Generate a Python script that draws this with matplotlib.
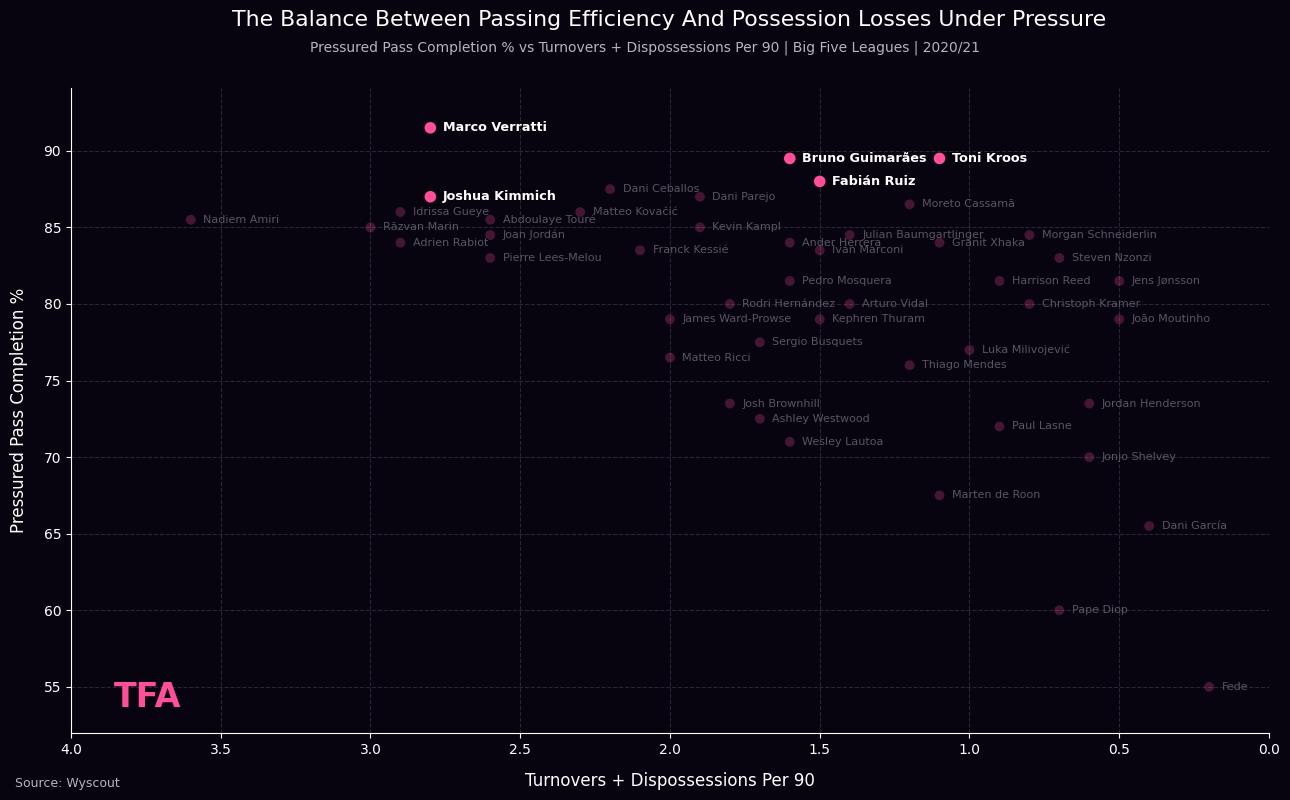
import matplotlib
matplotlib.use("Agg")
import matplotlib.pyplot as plt

###-----------Data--------------------------
highlight_names = ["Marco Verratti", "Bruno Guimarães", "Toni Kroos", "Fabián Ruiz", "Joshua Kimmich"]
highlight_x = [2.8, 1.6, 1.1, 1.5, 2.8]
highlight_y = [91.5, 89.5, 89.5, 88.0, 87.0]

other_names = ["Nadiem Amiri", "Idrissa Gueye", "Răzvan Marin", "Adrien Rabiot", "Abdoulaye Touré",
               "Joan Jordán", "Pierre Lees-Melou", "Matteo Kovačić", "Dani Ceballos", "Dani Parejo",
               "Kevin Kampl", "Franck Kessié", "Moreto Cassamã", "Julian Baumgartlinger", "Ander Herrera",
               "Iván Marconi", "Granit Xhaka", "Morgan Schneiderlin", "Steven Nzonzi", "Pedro Mosquera",
               "Harrison Reed", "Jens Jønsson", "Rodri Hernández", "Arturo Vidal", "Christoph Kramer",
               "James Ward-Prowse", "Kephren Thuram", "João Moutinho", "Sergio Busquets", "Matteo Ricci",
               "Luka Milivojević", "Thiago Mendes", "Josh Brownhill", "Ashley Westwood", "Jordan Henderson",
               "Paul Lasne", "Wesley Lautoa", "Jonjo Shelvey", "Marten de Roon", "Dani García",
               "Pape Diop", "Fede"]
other_x = [3.6, 2.9, 3.0, 2.9, 2.6,
           2.6, 2.6, 2.3, 2.2, 1.9,
           1.9, 2.1, 1.2, 1.4, 1.6,
           1.5, 1.1, 0.8, 0.7, 1.6,
           0.9, 0.5, 1.8, 1.4, 0.8,
           2.0, 1.5, 0.5, 1.7, 2.0,
           1.0, 1.2, 1.8, 1.7, 0.6,
           0.9, 1.6, 0.6, 1.1, 0.4,
           0.7, 0.2]
other_y = [85.5, 86.0, 85.0, 84.0, 85.5,
           84.5, 83.0, 86.0, 87.5, 87.0,
           85.0, 83.5, 86.5, 84.5, 84.0,
           83.5, 84.0, 84.5, 83.0, 81.5,
           81.5, 81.5, 80.0, 80.0, 80.0,
           79.0, 79.0, 79.0, 77.5, 76.5,
           77.0, 76.0, 73.5, 72.5, 73.5,
           72.0, 71.0, 70.0, 67.5, 65.5,
           60.0, 55.0]

x_ticks = [4.0, 3.5, 3.0, 2.5, 2.0, 1.5, 1.0, 0.5, 0.0]
y_ticks = [55, 60, 65, 70, 75, 80, 85, 90]
###------------------------------------------

bg = "#07040f"
pink = "#ff4f9a"

fig = plt.figure(figsize=(12.9, 8), dpi=100, facecolor=bg)
ax = fig.add_axes([0.055, 0.084, 0.9287, 0.806])
ax.set_facecolor(bg)

ax.scatter(other_x, other_y, s=50, color=pink, alpha=0.25, edgecolors="none", zorder=3)
ax.scatter(highlight_x, highlight_y, s=70, color=pink, edgecolors="none", zorder=4)

for n, x, y in zip(other_names, other_x, other_y):
    ax.annotate(n, (x, y), xytext=(9, 0), textcoords="offset points", va="center",
                fontsize=8, color="#5a5560", zorder=2)
for n, x, y in zip(highlight_names, highlight_x, highlight_y):
    ax.annotate(n, (x, y), xytext=(9, 0), textcoords="offset points", va="center",
                fontsize=9.2, color="white", fontweight="bold", zorder=5)

ax.set_xlim(4.0, 0.0)
ax.set_ylim(52, 94.1)
ax.set_xticks(x_ticks)
ax.set_yticks(y_ticks)
ax.tick_params(colors="white", labelsize=10)
ax.grid(True, color="#2a2633", linestyle="--", linewidth=0.8, zorder=0)
for s in ["top", "right"]:
    ax.spines[s].set_visible(False)
for s in ["left", "bottom"]:
    ax.spines[s].set_color("white")

ax.set_xlabel("Turnovers + Dispossessions Per 90", color="white", fontsize=12, labelpad=11)
ax.set_ylabel("Pressured Pass Completion %", color="white", fontsize=12, labelpad=11)

# title sits over the axes centre, subtitle over the figure centre
fig.text(0.519, 0.975, "The Balance Between Passing Efficiency And Possession Losses Under Pressure",
         ha="center", va="center", color="white", fontsize=15.8)
fig.text(0.5, 0.94, "Pressured Pass Completion % vs Turnovers + Dispossessions Per 90 | Big Five Leagues | 2020/21",
         ha="center", va="center", color="#b8b4bd", fontsize=10)
fig.text(0.012, 0.021, "Source: Wyscout", ha="left", va="center", color="#b8b4bd", fontsize=9)
fig.text(0.088, 0.128, "TFA", ha="left", va="center", color=pink, fontsize=24, fontweight="bold")

fig.savefig("out.png", dpi=100, facecolor=bg)
